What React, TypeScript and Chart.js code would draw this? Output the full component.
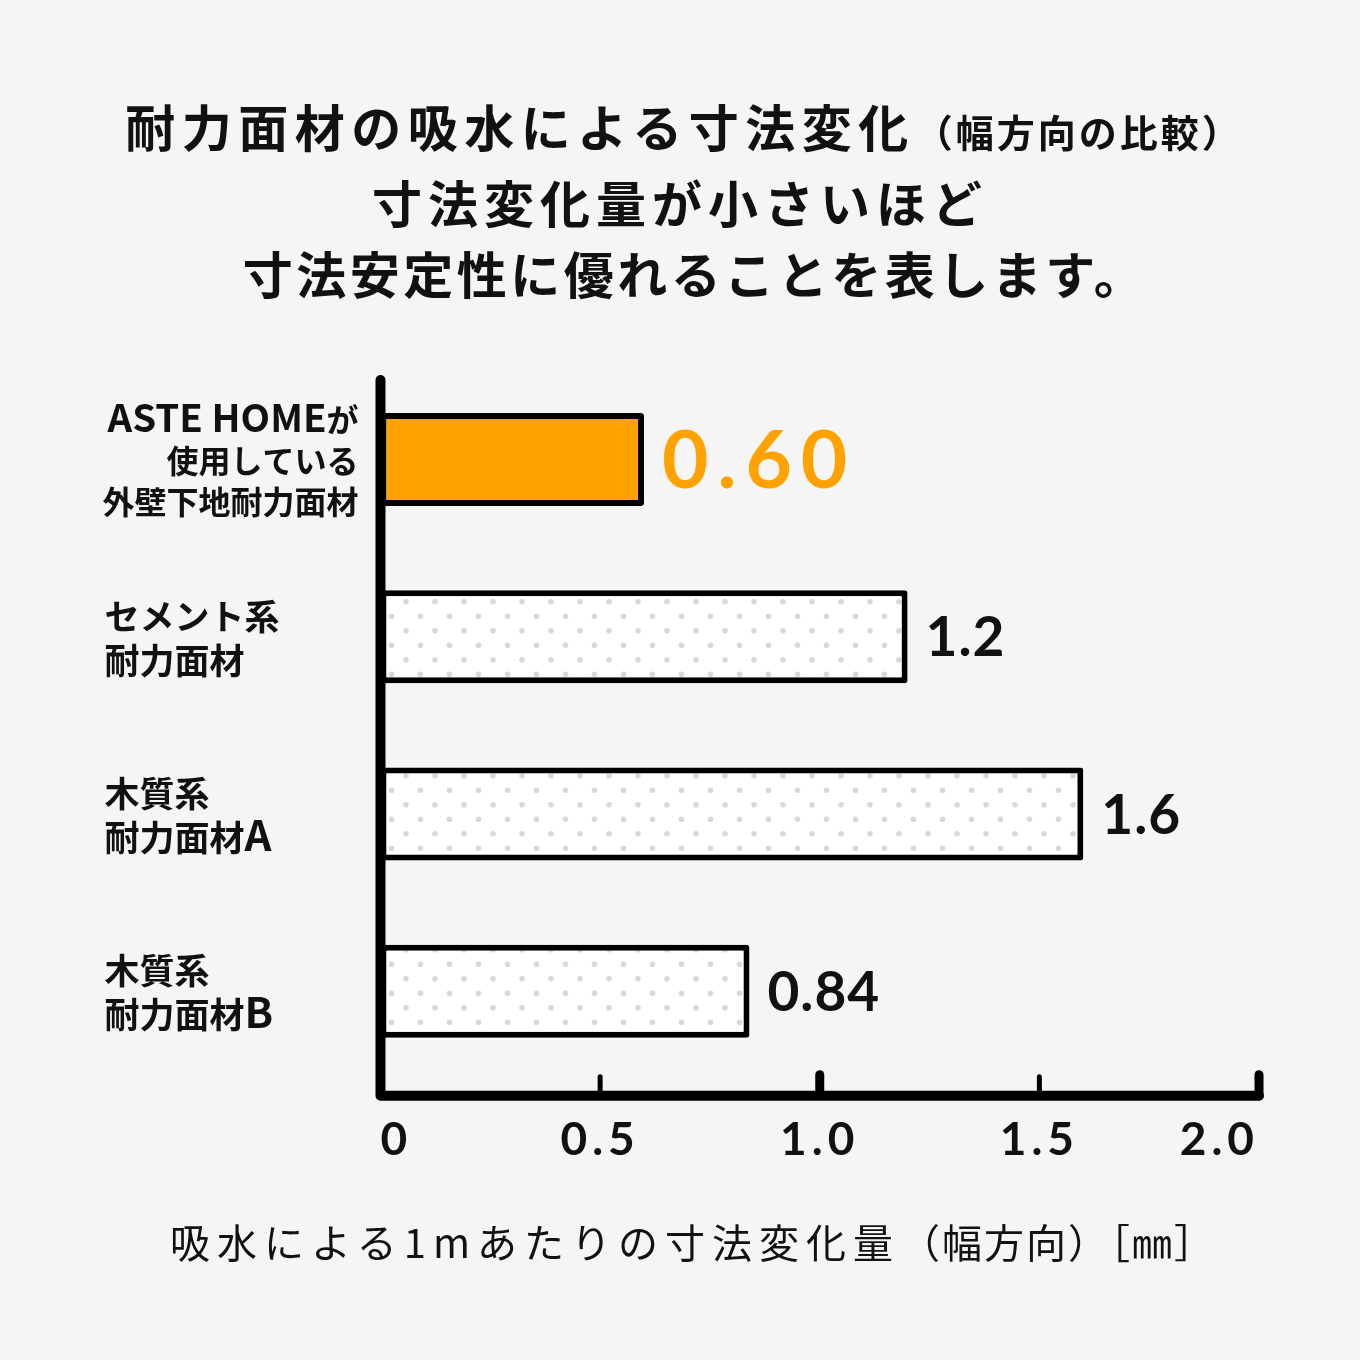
import { useEffect, useRef } from 'react';
import { Chart, registerables } from 'chart.js';

Chart.register(...registerables);

// categories, one entry per bar (each line of the label as its own string)
const categories = [
  ['ASTE HOMEが', '使用している', '外壁下地耐力面材'],
  ['セメント系', '耐力面材'],
  ['木質系', '耐力面材A'],
  ['木質系', '耐力面材B'],
];
const values = [0.6, 1.2, 1.6, 0.84];
const valueLabels = ['0.60', '1.2', '1.6', '0.84'];
const xTickLabels = ['0', '0.5', '1.0', '1.5', '2.0'];
const majorTicks = [1.0, 2.0];
const highlight = 0;

const ORANGE = '#ffa200';
const INK = '#111111';
const JP = '"Noto Sans CJK JP", "Noto Sans", sans-serif';
const NUM = 'Lato, "Noto Sans", sans-serif';

function dotPattern(ctx: CanvasRenderingContext2D) {
  const c = document.createElement('canvas');
  c.width = 29;
  c.height = 29;
  const g = c.getContext('2d')!;
  g.fillStyle = '#ffffff';
  g.fillRect(0, 0, 29, 29);
  g.fillStyle = '#d8d8d8';
  [[0, 21.7], [29, 21.7], [14.5, 7.2]].forEach(([x, y]) => {
    g.beginPath();
    g.arc(x, y, 2.8, 0, Math.PI * 2);
    g.fill();
  });
  return ctx.createPattern(c, 'repeat')!;
}

// latin runs are set a little larger than the kana/kanji around them
function drawMixed(ctx: CanvasRenderingContext2D, text: string, x: number, y: number, size: number, right: boolean) {
  const runs = text.match(/[\x20-\x7e]+|[^\x20-\x7e]+/g) || [];
  const fontFor = (r: string) => `700 ${/^[\x20-\x7e]/.test(r) ? size * 1.2 : size}px ${JP}`;
  const widths = runs.map((r) => {
    ctx.font = fontFor(r);
    return ctx.measureText(r).width;
  });
  let cx = right ? x - widths.reduce((a, b) => a + b, 0) : x;
  runs.forEach((r, i) => {
    ctx.font = fontFor(r);
    ctx.fillText(r, cx, y);
    cx += widths[i];
  });
}

// wider tracking for the tick numbers drawn by the x scale
const trackingPlugin = {
  id: 'tracking',
  beforeDraw(chart: any) {
    (chart.ctx as any).letterSpacing = '5px';
  },
  afterDraw(chart: any) {
    (chart.ctx as any).letterSpacing = '0px';
  },
};

const axesPlugin = {
  id: 'axes',
  afterDatasetsDraw(chart: any) {
    const { ctx, chartArea, scales } = chart;
    const x = scales.x;
    const x0 = x.getPixelForValue(0);
    const xEnd = x.getPixelForValue(2);
    const axisY = chartArea.bottom + 16;
    ctx.save();
    ctx.strokeStyle = '#000';
    ctx.lineCap = 'round';
    ctx.lineJoin = 'round';
    ctx.lineWidth = 10;
    ctx.beginPath();
    ctx.moveTo(x0, chartArea.top + 9);
    ctx.lineTo(x0, axisY);
    ctx.lineTo(xEnd, axisY);
    ctx.stroke();
    [0.5, 1.0, 1.5, 2.0].forEach((v) => {
      const px = x.getPixelForValue(v);
      const major = majorTicks.includes(v);
      ctx.lineWidth = major ? 9 : 5;
      ctx.beginPath();
      ctx.moveTo(px, axisY);
      ctx.lineTo(px, axisY - (major ? 21 : 19));
      ctx.stroke();
    });
    ctx.restore();
  },
};

const labelsPlugin = {
  id: 'barLabels',
  afterDatasetsDraw(chart: any) {
    const { ctx, chartArea, scales } = chart;
    const meta = chart.getDatasetMeta(0);
    ctx.save();
    (ctx as any).letterSpacing = '0px';

    // category labels on the left
    ctx.fillStyle = INK;
    ctx.textAlign = 'left';
    ctx.textBaseline = 'alphabetic';
    categories.forEach((lines, i) => {
      const cy = scales.y.getPixelForValue(i);
      const lh = lines.length > 2 ? 41 : 44;
      const right = i === highlight;
      const size = right ? 32 : 35;
      const lx = right ? chartArea.left - 22 : chartArea.left - 276;
      lines.forEach((t, j) => {
        const ly = cy - ((lines.length - 1) * lh) / 2 + j * lh;
        drawMixed(ctx, t, lx, ly + size * 0.42, size, right);
      });
    });

    // value labels after each bar
    meta.data.forEach((bar: any, i: number) => {
      const big = i === highlight;
      const size = big ? 80 : 55;
      ctx.font = `700 ${size}px ${NUM}`;
      ctx.fillStyle = big ? ORANGE : INK;
      (ctx as any).letterSpacing = big ? '9px' : '1px';
      ctx.fillText(valueLabels[i], bar.x + 18, bar.y + size * 0.358);
    });
    ctx.restore();
  },
};

export default function App() {
  const canvasRef = useRef<HTMLCanvasElement | null>(null);

  useEffect(() => {
    const canvas = canvasRef.current!;
    const pattern = dotPattern(canvas.getContext('2d')!);
    const chart = new Chart(canvas, {
      type: 'bar',
      data: {
        labels: categories,
        datasets: [
          {
            data: values,
            backgroundColor: values.map((_, i) => (i === highlight ? ORANGE : pattern)),
            borderColor: '#000',
            borderWidth: 6,
            borderSkipped: false,
            borderRadius: 3,
            barPercentage: 0.525,
            categoryPercentage: 1,
          },
        ],
      },
      options: {
        indexAxis: 'y',
        responsive: false,
        animation: false,
        events: [],
        layout: { padding: { left: 380.5, right: 101, top: 371, bottom: 159 } },
        plugins: { legend: { display: false }, tooltip: { enabled: false } },
        scales: {
          y: { display: false },
          x: {
            min: 0,
            max: 2,
            grid: { display: false, drawTicks: false },
            border: { display: false },
            ticks: {
              stepSize: 0.5,
              align: 'inner',
              padding: 33,
              color: INK,
              font: { family: NUM, size: 46, weight: 'bold' },
              callback: (_v: any, i: number) => xTickLabels[i],
            },
          },
        },
      },
      plugins: [trackingPlugin, axesPlugin, labelsPlugin],
    });
    return () => chart.destroy();
  }, []);

  return (
    <div
      style={{
        position: 'absolute',
        left: 0,
        top: 0,
        width: 1360,
        height: 1360,
        background: '#f5f5f5',
        fontFamily: JP,
        color: INK,
        overflow: 'hidden',
      }}
    >
      <canvas ref={canvasRef} width={1360} height={1360} style={{ position: 'absolute', left: 0, top: 0 }} />
      <div
        style={{
          position: 'absolute',
          top: 90,
          left: 0,
          width: '100%',
          textAlign: 'center',
          fontWeight: 700,
          fontSize: 50,
          lineHeight: '71px',
        }}
      >
        <div style={{ letterSpacing: 6.5, paddingLeft: 8 }}>
          耐力面材の吸水による寸法変化<span style={{ fontSize: 38, letterSpacing: 3 }}>（幅方向の比較）</span>
        </div>
        <div style={{ letterSpacing: 6 }}>寸法変化量が小さいほど</div>
        <div style={{ letterSpacing: 3.5, paddingLeft: 30 }}>寸法安定性に優れることを表します。</div>
      </div>
      <div
        style={{
          position: 'absolute',
          top: 1211,
          left: 0,
          width: '100%',
          textAlign: 'center',
          fontWeight: 400,
          fontSize: 40,
          lineHeight: '60px',
          letterSpacing: 7,
          paddingLeft: 26,
          boxSizing: 'border-box',
        }}
      >
        吸水による1mあたりの寸法変化量<span style={{ letterSpacing: 2 }}>（幅方向）［㎜］</span>
      </div>
    </div>
  );
}
